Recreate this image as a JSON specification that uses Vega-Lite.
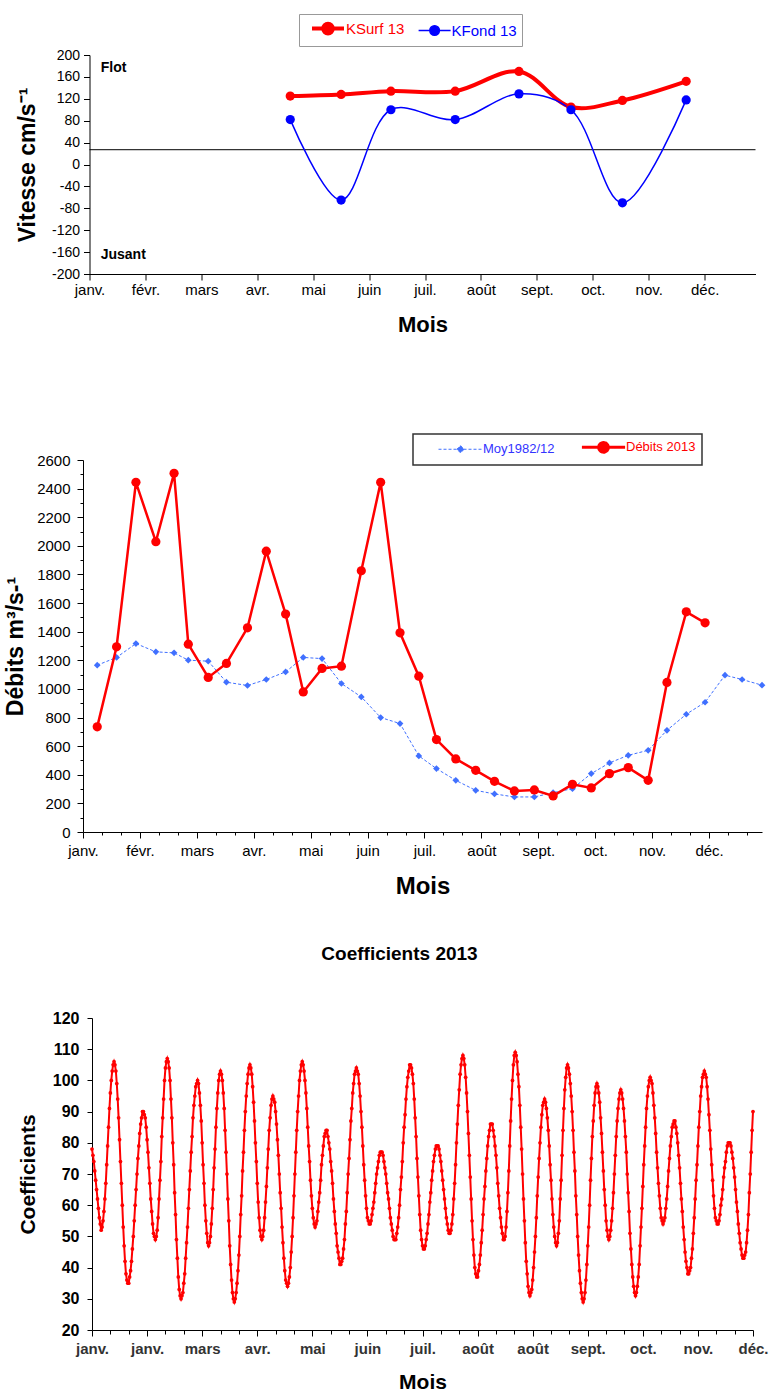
{
"$schema":"https://vega.github.io/schema/vega-lite/v6.json",
"padding":{"left":4,"top":13,"right":0,"bottom":0},
"background":"white",
"config":{"view":{"stroke":null},"font":"Liberation Sans",
"axis":{"grid":false,"labelFont":"Liberation Sans","titleFont":"Liberation Sans","domainColor":"#000","tickColor":"#000","labelColor":"#000","titleColor":"#000","titleFontWeight":"bold","labelFlush":false,"labelOverlap":false,"domainWidth":1,"tickWidth":1},
"legend":{"labelFont":"Liberation Sans"},"title":{"font":"Liberation Sans","color":"#000"}},
"resolve":{"scale":{"color":"independent","strokeWidth":"independent","x":"independent","y":"independent"},"legend":{"color":"independent"}},
"datasets":{"coef":[
{"t":0,"c":78},{"t":1,"c":76},{"t":2,"c":74},{"t":3,"c":71},{"t":4,"c":68},{"t":5,"c":65},{"t":6,"c":62},{"t":7,"c":59},{"t":8,"c":56},{"t":9,"c":54},{"t":10,"c":52},
{"t":11,"c":53},{"t":12,"c":55},{"t":13,"c":58},{"t":14,"c":62},{"t":15,"c":67},{"t":16,"c":73},{"t":17,"c":79},{"t":18,"c":85},{"t":19,"c":91},{"t":20,"c":96},{"t":21,"c":100},{"t":22,"c":103},{"t":23,"c":105},{"t":24,"c":106},
{"t":25,"c":105},{"t":26,"c":103},{"t":27,"c":99},{"t":28,"c":94},{"t":29,"c":88},{"t":30,"c":81},{"t":31,"c":74},{"t":32,"c":67},{"t":33,"c":60},{"t":34,"c":53},{"t":35,"c":47},{"t":36,"c":42},{"t":37,"c":38},{"t":38,"c":36},{"t":39,"c":35},
{"t":40,"c":35},{"t":41,"c":37},{"t":42,"c":39},{"t":43,"c":42},{"t":44,"c":46},{"t":45,"c":50},{"t":46,"c":55},{"t":47,"c":60},{"t":48,"c":65},{"t":49,"c":70},{"t":50,"c":75},{"t":51,"c":79},{"t":52,"c":83},{"t":53,"c":86},{"t":54,"c":88},{"t":55,"c":90},{"t":56,"c":90},
{"t":57,"c":89},{"t":58,"c":88},{"t":59,"c":85},{"t":60,"c":81},{"t":61,"c":77},{"t":62,"c":72},{"t":63,"c":67},{"t":64,"c":62},{"t":65,"c":58},{"t":66,"c":54},{"t":67,"c":51},{"t":68,"c":50},{"t":69,"c":49},
{"t":70,"c":50},{"t":71,"c":52},{"t":72,"c":56},{"t":73,"c":62},{"t":74,"c":68},{"t":75,"c":74},{"t":76,"c":82},{"t":77,"c":88},{"t":78,"c":94},{"t":79,"c":100},{"t":80,"c":104},{"t":81,"c":106},{"t":82,"c":107},
{"t":83,"c":106},{"t":84,"c":104},{"t":85,"c":100},{"t":86,"c":94},{"t":87,"c":88},{"t":88,"c":80},{"t":89,"c":73},{"t":90,"c":64},{"t":91,"c":57},{"t":92,"c":49},{"t":93,"c":43},{"t":94,"c":37},{"t":95,"c":33},{"t":96,"c":31},{"t":97,"c":30},
{"t":98,"c":31},{"t":99,"c":32},{"t":100,"c":35},{"t":101,"c":38},{"t":102,"c":43},{"t":103,"c":48},{"t":104,"c":53},{"t":105,"c":59},{"t":106,"c":65},{"t":107,"c":71},{"t":108,"c":77},{"t":109,"c":82},{"t":110,"c":88},{"t":111,"c":92},{"t":112,"c":95},{"t":113,"c":98},{"t":114,"c":99},{"t":115,"c":100},
{"t":116,"c":99},{"t":117,"c":96},{"t":118,"c":92},{"t":119,"c":87},{"t":120,"c":80},{"t":121,"c":73},{"t":122,"c":67},{"t":123,"c":60},{"t":124,"c":55},{"t":125,"c":51},{"t":126,"c":48},{"t":127,"c":47},
{"t":128,"c":48},{"t":129,"c":50},{"t":130,"c":54},{"t":131,"c":59},{"t":132,"c":65},{"t":133,"c":72},{"t":134,"c":78},{"t":135,"c":85},{"t":136,"c":91},{"t":137,"c":96},{"t":138,"c":100},{"t":139,"c":102},{"t":140,"c":103},
{"t":141,"c":102},{"t":142,"c":100},{"t":143,"c":96},{"t":144,"c":91},{"t":145,"c":84},{"t":146,"c":77},{"t":147,"c":70},{"t":148,"c":62},{"t":149,"c":55},{"t":150,"c":47},{"t":151,"c":41},{"t":152,"c":36},{"t":153,"c":32},{"t":154,"c":30},{"t":155,"c":29},
{"t":156,"c":30},{"t":157,"c":32},{"t":158,"c":35},{"t":159,"c":39},{"t":160,"c":44},{"t":161,"c":50},{"t":162,"c":57},{"t":163,"c":63},{"t":164,"c":71},{"t":165,"c":77},{"t":166,"c":84},{"t":167,"c":90},{"t":168,"c":95},{"t":169,"c":99},{"t":170,"c":102},{"t":171,"c":104},{"t":172,"c":105},
{"t":173,"c":104},{"t":174,"c":102},{"t":175,"c":98},{"t":176,"c":93},{"t":177,"c":87},{"t":178,"c":80},{"t":179,"c":74},{"t":180,"c":67},{"t":181,"c":61},{"t":182,"c":56},{"t":183,"c":52},{"t":184,"c":50},{"t":185,"c":49},
{"t":186,"c":50},{"t":187,"c":52},{"t":188,"c":56},{"t":189,"c":61},{"t":190,"c":66},{"t":191,"c":72},{"t":192,"c":78},{"t":193,"c":84},{"t":194,"c":88},{"t":195,"c":92},{"t":196,"c":94},{"t":197,"c":95},
{"t":198,"c":94},{"t":199,"c":93},{"t":200,"c":90},{"t":201,"c":86},{"t":202,"c":81},{"t":203,"c":76},{"t":204,"c":70},{"t":205,"c":64},{"t":206,"c":59},{"t":207,"c":53},{"t":208,"c":48},{"t":209,"c":43},{"t":210,"c":39},{"t":211,"c":36},{"t":212,"c":35},{"t":213,"c":34},
{"t":214,"c":35},{"t":215,"c":37},{"t":216,"c":40},{"t":217,"c":45},{"t":218,"c":50},{"t":219,"c":56},{"t":220,"c":63},{"t":221,"c":70},{"t":222,"c":77},{"t":223,"c":84},{"t":224,"c":90},{"t":225,"c":95},{"t":226,"c":100},{"t":227,"c":103},{"t":228,"c":105},{"t":229,"c":106},
{"t":230,"c":105},{"t":231,"c":103},{"t":232,"c":100},{"t":233,"c":96},{"t":234,"c":91},{"t":235,"c":85},{"t":236,"c":79},{"t":237,"c":74},{"t":238,"c":68},{"t":239,"c":63},{"t":240,"c":59},{"t":241,"c":56},{"t":242,"c":54},{"t":243,"c":53},
{"t":244,"c":54},{"t":245,"c":55},{"t":246,"c":58},{"t":247,"c":61},{"t":248,"c":64},{"t":249,"c":68},{"t":250,"c":73},{"t":251,"c":76},{"t":252,"c":79},{"t":253,"c":82},{"t":254,"c":83},{"t":255,"c":84},
{"t":256,"c":84},{"t":257,"c":82},{"t":258,"c":80},{"t":259,"c":78},{"t":260,"c":74},{"t":261,"c":71},{"t":262,"c":67},{"t":263,"c":62},{"t":264,"c":58},{"t":265,"c":54},{"t":266,"c":51},{"t":267,"c":47},{"t":268,"c":45},{"t":269,"c":43},{"t":270,"c":41},{"t":271,"c":41},
{"t":272,"c":42},{"t":273,"c":43},{"t":274,"c":46},{"t":275,"c":49},{"t":276,"c":54},{"t":277,"c":58},{"t":278,"c":64},{"t":279,"c":70},{"t":280,"c":75},{"t":281,"c":81},{"t":282,"c":87},{"t":283,"c":91},{"t":284,"c":96},{"t":285,"c":99},{"t":286,"c":102},{"t":287,"c":103},{"t":288,"c":104},
{"t":289,"c":103},{"t":290,"c":102},{"t":291,"c":99},{"t":292,"c":95},{"t":293,"c":90},{"t":294,"c":85},{"t":295,"c":79},{"t":296,"c":73},{"t":297,"c":68},{"t":298,"c":63},{"t":299,"c":59},{"t":300,"c":56},{"t":301,"c":55},{"t":302,"c":54},
{"t":303,"c":54},{"t":304,"c":55},{"t":305,"c":57},{"t":306,"c":59},{"t":307,"c":61},{"t":308,"c":64},{"t":309,"c":67},{"t":310,"c":70},{"t":311,"c":72},{"t":312,"c":74},{"t":313,"c":76},{"t":314,"c":77},{"t":315,"c":77},
{"t":316,"c":77},{"t":317,"c":76},{"t":318,"c":74},{"t":319,"c":72},{"t":320,"c":70},{"t":321,"c":67},{"t":322,"c":64},{"t":323,"c":62},{"t":324,"c":59},{"t":325,"c":56},{"t":326,"c":54},{"t":327,"c":52},{"t":328,"c":50},{"t":329,"c":49},{"t":330,"c":49},
{"t":331,"c":49},{"t":332,"c":51},{"t":333,"c":53},{"t":334,"c":56},{"t":335,"c":60},{"t":336,"c":65},{"t":337,"c":69},{"t":338,"c":74},{"t":339,"c":80},{"t":340,"c":85},{"t":341,"c":89},{"t":342,"c":94},{"t":343,"c":98},{"t":344,"c":101},{"t":345,"c":103},{"t":346,"c":105},{"t":347,"c":105},
{"t":348,"c":104},{"t":349,"c":102},{"t":350,"c":99},{"t":351,"c":94},{"t":352,"c":88},{"t":353,"c":82},{"t":354,"c":75},{"t":355,"c":69},{"t":356,"c":63},{"t":357,"c":57},{"t":358,"c":52},{"t":359,"c":49},{"t":360,"c":47},{"t":361,"c":46},
{"t":362,"c":46},{"t":363,"c":47},{"t":364,"c":49},{"t":365,"c":51},{"t":366,"c":54},{"t":367,"c":57},{"t":368,"c":61},{"t":369,"c":64},{"t":370,"c":68},{"t":371,"c":71},{"t":372,"c":74},{"t":373,"c":76},{"t":374,"c":78},{"t":375,"c":79},{"t":376,"c":79},
{"t":377,"c":79},{"t":378,"c":78},{"t":379,"c":76},{"t":380,"c":74},{"t":381,"c":71},{"t":382,"c":68},{"t":383,"c":65},{"t":384,"c":62},{"t":385,"c":59},{"t":386,"c":56},{"t":387,"c":54},{"t":388,"c":52},{"t":389,"c":51},{"t":390,"c":51},
{"t":391,"c":52},{"t":392,"c":54},{"t":393,"c":57},{"t":394,"c":62},{"t":395,"c":67},{"t":396,"c":73},{"t":397,"c":80},{"t":398,"c":86},{"t":399,"c":92},{"t":400,"c":97},{"t":401,"c":102},{"t":402,"c":105},{"t":403,"c":107},{"t":404,"c":108},
{"t":405,"c":107},{"t":406,"c":105},{"t":407,"c":101},{"t":408,"c":96},{"t":409,"c":90},{"t":410,"c":83},{"t":411,"c":76},{"t":412,"c":69},{"t":413,"c":62},{"t":414,"c":55},{"t":415,"c":49},{"t":416,"c":44},{"t":417,"c":40},{"t":418,"c":38},{"t":419,"c":37},
{"t":420,"c":37},{"t":421,"c":39},{"t":422,"c":41},{"t":423,"c":44},{"t":424,"c":48},{"t":425,"c":52},{"t":426,"c":57},{"t":427,"c":62},{"t":428,"c":66},{"t":429,"c":71},{"t":430,"c":75},{"t":431,"c":79},{"t":432,"c":82},{"t":433,"c":84},{"t":434,"c":86},{"t":435,"c":86},
{"t":436,"c":86},{"t":437,"c":84},{"t":438,"c":82},{"t":439,"c":79},{"t":440,"c":76},{"t":441,"c":72},{"t":442,"c":67},{"t":443,"c":63},{"t":444,"c":59},{"t":445,"c":56},{"t":446,"c":53},{"t":447,"c":51},{"t":448,"c":49},{"t":449,"c":49},
{"t":450,"c":50},{"t":451,"c":53},{"t":452,"c":58},{"t":453,"c":64},{"t":454,"c":71},{"t":455,"c":79},{"t":456,"c":87},{"t":457,"c":94},{"t":458,"c":100},{"t":459,"c":105},{"t":460,"c":108},{"t":461,"c":109},
{"t":462,"c":108},{"t":463,"c":106},{"t":464,"c":102},{"t":465,"c":98},{"t":466,"c":92},{"t":467,"c":85},{"t":468,"c":78},{"t":469,"c":70},{"t":470,"c":62},{"t":471,"c":55},{"t":472,"c":48},{"t":473,"c":42},{"t":474,"c":38},{"t":475,"c":34},{"t":476,"c":32},{"t":477,"c":31},
{"t":478,"c":32},{"t":479,"c":33},{"t":480,"c":36},{"t":481,"c":40},{"t":482,"c":45},{"t":483,"c":50},{"t":484,"c":56},{"t":485,"c":63},{"t":486,"c":69},{"t":487,"c":75},{"t":488,"c":80},{"t":489,"c":85},{"t":490,"c":89},{"t":491,"c":92},{"t":492,"c":93},{"t":493,"c":94},
{"t":494,"c":93},{"t":495,"c":91},{"t":496,"c":88},{"t":497,"c":84},{"t":498,"c":79},{"t":499,"c":73},{"t":500,"c":68},{"t":501,"c":62},{"t":502,"c":57},{"t":503,"c":53},{"t":504,"c":50},{"t":505,"c":48},{"t":506,"c":47},
{"t":507,"c":48},{"t":508,"c":51},{"t":509,"c":55},{"t":510,"c":62},{"t":511,"c":68},{"t":512,"c":76},{"t":513,"c":84},{"t":514,"c":91},{"t":515,"c":97},{"t":516,"c":101},{"t":517,"c":104},{"t":518,"c":105},
{"t":519,"c":104},{"t":520,"c":102},{"t":521,"c":99},{"t":522,"c":95},{"t":523,"c":90},{"t":524,"c":84},{"t":525,"c":77},{"t":526,"c":71},{"t":527,"c":63},{"t":528,"c":57},{"t":529,"c":50},{"t":530,"c":44},{"t":531,"c":39},{"t":532,"c":35},{"t":533,"c":32},{"t":534,"c":30},{"t":535,"c":29},
{"t":536,"c":30},{"t":537,"c":32},{"t":538,"c":36},{"t":539,"c":41},{"t":540,"c":47},{"t":541,"c":53},{"t":542,"c":60},{"t":543,"c":68},{"t":544,"c":75},{"t":545,"c":82},{"t":546,"c":87},{"t":547,"c":92},{"t":548,"c":96},{"t":549,"c":98},{"t":550,"c":99},
{"t":551,"c":98},{"t":552,"c":96},{"t":553,"c":93},{"t":554,"c":88},{"t":555,"c":83},{"t":556,"c":77},{"t":557,"c":71},{"t":558,"c":65},{"t":559,"c":60},{"t":560,"c":55},{"t":561,"c":52},{"t":562,"c":50},{"t":563,"c":49},
{"t":564,"c":50},{"t":565,"c":52},{"t":566,"c":55},{"t":567,"c":59},{"t":568,"c":64},{"t":569,"c":70},{"t":570,"c":76},{"t":571,"c":82},{"t":572,"c":87},{"t":573,"c":91},{"t":574,"c":94},{"t":575,"c":96},{"t":576,"c":97},
{"t":577,"c":96},{"t":578,"c":94},{"t":579,"c":91},{"t":580,"c":87},{"t":581,"c":82},{"t":582,"c":77},{"t":583,"c":70},{"t":584,"c":64},{"t":585,"c":58},{"t":586,"c":51},{"t":587,"c":46},{"t":588,"c":41},{"t":589,"c":37},{"t":590,"c":34},{"t":591,"c":32},{"t":592,"c":31},
{"t":593,"c":32},{"t":594,"c":34},{"t":595,"c":37},{"t":596,"c":41},{"t":597,"c":47},{"t":598,"c":53},{"t":599,"c":59},{"t":600,"c":66},{"t":601,"c":73},{"t":602,"c":79},{"t":603,"c":85},{"t":604,"c":91},{"t":605,"c":95},{"t":606,"c":98},{"t":607,"c":100},{"t":608,"c":101},
{"t":609,"c":100},{"t":610,"c":99},{"t":611,"c":96},{"t":612,"c":92},{"t":613,"c":88},{"t":614,"c":83},{"t":615,"c":77},{"t":616,"c":72},{"t":617,"c":67},{"t":618,"c":63},{"t":619,"c":59},{"t":620,"c":56},{"t":621,"c":55},{"t":622,"c":54},
{"t":623,"c":55},{"t":624,"c":56},{"t":625,"c":59},{"t":626,"c":62},{"t":627,"c":66},{"t":628,"c":71},{"t":629,"c":75},{"t":630,"c":79},{"t":631,"c":82},{"t":632,"c":85},{"t":633,"c":86},{"t":634,"c":87},
{"t":635,"c":87},{"t":636,"c":85},{"t":637,"c":83},{"t":638,"c":80},{"t":639,"c":76},{"t":640,"c":72},{"t":641,"c":67},{"t":642,"c":62},{"t":643,"c":58},{"t":644,"c":53},{"t":645,"c":49},{"t":646,"c":45},{"t":647,"c":42},{"t":648,"c":40},{"t":649,"c":38},{"t":650,"c":38},
{"t":651,"c":39},{"t":652,"c":40},{"t":653,"c":43},{"t":654,"c":46},{"t":655,"c":51},{"t":656,"c":56},{"t":657,"c":62},{"t":658,"c":68},{"t":659,"c":73},{"t":660,"c":79},{"t":661,"c":85},{"t":662,"c":90},{"t":663,"c":95},{"t":664,"c":98},{"t":665,"c":101},{"t":666,"c":102},{"t":667,"c":103},
{"t":668,"c":102},{"t":669,"c":101},{"t":670,"c":98},{"t":671,"c":94},{"t":672,"c":89},{"t":673,"c":84},{"t":674,"c":78},{"t":675,"c":73},{"t":676,"c":68},{"t":677,"c":63},{"t":678,"c":59},{"t":679,"c":56},{"t":680,"c":55},{"t":681,"c":54},
{"t":682,"c":54},{"t":683,"c":55},{"t":684,"c":57},{"t":685,"c":60},{"t":686,"c":62},{"t":687,"c":65},{"t":688,"c":69},{"t":689,"c":72},{"t":690,"c":74},{"t":691,"c":77},{"t":692,"c":79},{"t":693,"c":80},{"t":694,"c":80},
{"t":695,"c":80},{"t":696,"c":79},{"t":697,"c":77},{"t":698,"c":75},{"t":699,"c":72},{"t":700,"c":69},{"t":701,"c":65},{"t":702,"c":61},{"t":703,"c":58},{"t":704,"c":54},{"t":705,"c":51},{"t":706,"c":48},{"t":707,"c":46},{"t":708,"c":44},{"t":709,"c":43},{"t":710,"c":43},
{"t":711,"c":44},{"t":712,"c":45},{"t":713,"c":48},{"t":714,"c":52},{"t":715,"c":57},{"t":716,"c":64},{"t":717,"c":70},{"t":718,"c":77},{"t":719,"c":84},{"t":720,"c":90}
]},
"spacing":186,"bounds":"flush","center":true,
"vconcat":[
{"width":666,"height":219,
"layer":[
{"data":{"values":[{"v":27}]},"mark":{"type":"rule","color":"#000","strokeWidth":1},"encoding":{"y":{"field":"v","type":"quantitative","scale":{"domain":[-200,200],"nice":false},
"axis":{"title":"Vitesse cm/s⁻¹","titleFontSize":23,"titlePadding":12,"labelFontSize":14,"tickSize":6,"labelPadding":4,"labelOverlap":false,"tickCount":11,"values":[-200,-160,-120,-80,-40,0,40,80,120,160,200],"labelExpr":"datum.value + ''"}}}},
{"data":{"values":[
{"m":3.59,"v":125,"serie":"KSurf 13"},{"m":4.5,"v":128,"serie":"KSurf 13"},{"m":5.39,"v":134,"serie":"KSurf 13"},{"m":6.54,"v":134,"serie":"KSurf 13"},{"m":7.68,"v":170,"serie":"KSurf 13"},{"m":8.61,"v":105,"serie":"KSurf 13"},{"m":9.53,"v":117,"serie":"KSurf 13"},{"m":10.67,"v":152,"serie":"KSurf 13"},
{"m":3.59,"v":82,"serie":"KFond 13"},{"m":4.5,"v":-65,"serie":"KFond 13"},{"m":5.39,"v":100,"serie":"KFond 13"},{"m":6.54,"v":82,"serie":"KFond 13"},{"m":7.68,"v":129,"serie":"KFond 13"},{"m":8.61,"v":100,"serie":"KFond 13"},{"m":9.53,"v":-70,"serie":"KFond 13"},{"m":10.67,"v":118,"serie":"KFond 13"}]},
"encoding":{
"x":{"field":"m","type":"quantitative","scale":{"domain":[0,11.91],"nice":false,"zero":false},
"axis":{"title":"Mois","titleFontSize":22,"titlePadding":17,"labelFontSize":15,"tickSize":6,"labelPadding":2,"labelOverlap":false,"tickCount":12,"values":[0,1,2,3,4,5,6,7,8,9,10,11],
"labelExpr":"['janv.','févr.','mars','avr.','mai','juin','juil.','août','sept.','oct.','nov.','déc.'][round(datum.value)]"}},
"y":{"field":"v","type":"quantitative","scale":{"domain":[-200,200],"nice":false},
"axis":{"title":"Vitesse cm/s⁻¹","titleFontSize":23,"titlePadding":12,"labelFontSize":14,"tickSize":6,"labelPadding":4,"labelOverlap":false,"tickCount":11,"values":[-200,-160,-120,-80,-40,0,40,80,120,160,200],"labelExpr":"datum.value + ''"}},
"color":{"field":"serie","type":"nominal","scale":{"domain":["KSurf 13","KFond 13"],"range":["#ff0000","#0000ff"]},
"legend":{"orient":"none","legendX":209.5,"legendY":-41,"direction":"horizontal","title":null,"strokeColor":"#999999","padding":4.5,"labelFontSize":15,"symbolSize":256,"symbolOffset":14.5,"labelOffset":8,"columnPadding":6.6,
"symbolType":"M-2,0H2M0.6,0A0.6,0.6,0,1,1,-0.6,0A0.6,0.6,0,1,1,0.6,0Z",
"encode":{"labels":{"update":{"fill":{"signal":"datum.value === 'KSurf 13' ? '#ff0000' : '#0000ff'"}}},
"symbols":{"update":{"fill":{"signal":"datum.value === 'KSurf 13' ? '#ff0000' : '#0000ff'"},"stroke":{"signal":"datum.value === 'KSurf 13' ? '#ff0000' : '#0000ff'"},"strokeWidth":{"signal":"datum.value === 'KSurf 13' ? 4 : 1.5"},"opacity":{"value":1}}}}}}},
"layer":[
{"mark":{"type":"line","interpolate":"catmull-rom"},"encoding":{"strokeWidth":{"field":"serie","type":"nominal","scale":{"domain":["KSurf 13","KFond 13"],"range":[4,1.5]},"legend":null}}},
{"mark":{"type":"point","filled":true,"size":85,"opacity":1}}]},
{"data":{"values":[{}]},"mark":{"type":"text","text":"Flot","align":"left","baseline":"middle","fontWeight":"bold","fontSize":14,"color":"#000"},"encoding":{"x":{"datum":0.2},"y":{"datum":176}}},
{"data":{"values":[{}]},"mark":{"type":"text","text":"Jusant","align":"left","baseline":"middle","fontWeight":"bold","fontSize":14,"color":"#000"},"encoding":{"x":{"datum":0.2},"y":{"datum":-165}}}
]},
{"width":679,"height":372,
"data":{"values":[
{"m":0.25,"q":1166,"serie":"Moy1982/12"},{"m":0.59,"q":1220,"serie":"Moy1982/12"},{"m":0.93,"q":1317,"serie":"Moy1982/12"},{"m":1.28,"q":1259,"serie":"Moy1982/12"},{"m":1.6,"q":1252,"serie":"Moy1982/12"},{"m":1.85,"q":1201,"serie":"Moy1982/12"},{"m":2.2,"q":1194,"serie":"Moy1982/12"},{"m":2.52,"q":1047,"serie":"Moy1982/12"},{"m":2.89,"q":1024,"serie":"Moy1982/12"},{"m":3.22,"q":1066,"serie":"Moy1982/12"},{"m":3.56,"q":1119,"serie":"Moy1982/12"},{"m":3.87,"q":1220,"serie":"Moy1982/12"},
{"m":4.2,"q":1212,"serie":"Moy1982/12"},{"m":4.54,"q":1038,"serie":"Moy1982/12"},{"m":4.89,"q":944,"serie":"Moy1982/12"},{"m":5.23,"q":800,"serie":"Moy1982/12"},{"m":5.57,"q":758,"serie":"Moy1982/12"},{"m":5.9,"q":532,"serie":"Moy1982/12"},{"m":6.21,"q":443,"serie":"Moy1982/12"},{"m":6.55,"q":361,"serie":"Moy1982/12"},{"m":6.9,"q":291,"serie":"Moy1982/12"},{"m":7.23,"q":266,"serie":"Moy1982/12"},{"m":7.58,"q":245,"serie":"Moy1982/12"},{"m":7.93,"q":245,"serie":"Moy1982/12"},
{"m":8.26,"q":275,"serie":"Moy1982/12"},{"m":8.6,"q":303,"serie":"Moy1982/12"},{"m":8.93,"q":408,"serie":"Moy1982/12"},{"m":9.25,"q":483,"serie":"Moy1982/12"},{"m":9.58,"q":536,"serie":"Moy1982/12"},{"m":9.93,"q":571,"serie":"Moy1982/12"},{"m":10.26,"q":711,"serie":"Moy1982/12"},{"m":10.6,"q":823,"serie":"Moy1982/12"},{"m":10.93,"q":907,"serie":"Moy1982/12"},{"m":11.28,"q":1096,"serie":"Moy1982/12"},{"m":11.58,"q":1066,"serie":"Moy1982/12"},{"m":11.93,"q":1026,"serie":"Moy1982/12"},
{"m":0.25,"q":735,"serie":"Débits 2013"},{"m":0.59,"q":1294,"serie":"Débits 2013"},{"m":0.93,"q":2444,"serie":"Débits 2013"},{"m":1.28,"q":2029,"serie":"Débits 2013"},{"m":1.6,"q":2507,"serie":"Débits 2013"},{"m":1.85,"q":1313,"serie":"Débits 2013"},{"m":2.2,"q":1080,"serie":"Débits 2013"},{"m":2.52,"q":1178,"serie":"Débits 2013"},{"m":2.89,"q":1427,"serie":"Débits 2013"},{"m":3.22,"q":1963,"serie":"Débits 2013"},{"m":3.56,"q":1523,"serie":"Débits 2013"},
{"m":3.87,"q":979,"serie":"Débits 2013"},{"m":4.2,"q":1143,"serie":"Débits 2013"},{"m":4.54,"q":1159,"serie":"Débits 2013"},{"m":4.89,"q":1826,"serie":"Débits 2013"},{"m":5.23,"q":2444,"serie":"Débits 2013"},{"m":5.57,"q":1392,"serie":"Débits 2013"},{"m":5.9,"q":1089,"serie":"Débits 2013"},{"m":6.21,"q":646,"serie":"Débits 2013"},{"m":6.55,"q":511,"serie":"Débits 2013"},{"m":6.9,"q":431,"serie":"Débits 2013"},{"m":7.23,"q":354,"serie":"Débits 2013"},
{"m":7.58,"q":287,"serie":"Débits 2013"},{"m":7.93,"q":294,"serie":"Débits 2013"},{"m":8.26,"q":252,"serie":"Débits 2013"},{"m":8.6,"q":333,"serie":"Débits 2013"},{"m":8.93,"q":308,"serie":"Débits 2013"},{"m":9.25,"q":408,"serie":"Débits 2013"},{"m":9.58,"q":450,"serie":"Débits 2013"},{"m":9.93,"q":361,"serie":"Débits 2013"},{"m":10.26,"q":1045,"serie":"Débits 2013"},{"m":10.6,"q":1539,"serie":"Débits 2013"},{"m":10.93,"q":1462,"serie":"Débits 2013"}]},
"encoding":{
"x":{"field":"m","type":"quantitative","scale":{"domain":[0,11.93],"nice":false,"zero":false},
"axis":{"title":"Mois","titleFontSize":24,"titlePadding":16,"labelFontSize":15,"labelPadding":5,"labelOverlap":false,"tickCount":40,
"values":[0,0.3333,0.6667,1,1.3333,1.6667,2,2.3333,2.6667,3,3.3333,3.6667,4,4.3333,4.6667,5,5.3333,5.6667,6,6.3333,6.6667,7,7.3333,7.6667,8,8.3333,8.6667,9,9.3333,9.6667,10,10.3333,10.6667,11,11.3333,11.6667],
"tickSize":{"condition":{"test":"abs(datum.value-round(datum.value))<0.01","value":6},"value":3},
"labelExpr":"abs(datum.value-round(datum.value))<0.01 ? ['janv.','févr.','mars','avr.','mai','juin','juil.','août','sept.','oct.','nov.','déc.'][round(datum.value)] : ''"}},
"y":{"field":"q","type":"quantitative","scale":{"domain":[0,2600],"nice":false},
"axis":{"title":"Débits m³/s-¹","titleFontSize":23,"titlePadding":9,"labelFontSize":15,"labelPadding":7,"format":"d","labelOverlap":false,"tickCount":30,
"values":[0,100,200,300,400,500,600,700,800,900,1000,1100,1200,1300,1400,1500,1600,1700,1800,1900,2000,2100,2200,2300,2400,2500,2600],
"tickSize":{"condition":{"test":"datum.value % 200 == 0","value":6},"value":3},
"labelExpr":"datum.value % 200 == 0 ? datum.label : ''"}},
"color":{"field":"serie","type":"nominal","scale":{"domain":["Moy1982/12","Débits 2013"],"range":["#4070ff","#ff0000"]},
"legend":{"orient":"none","legendX":330,"legendY":-26,"direction":"horizontal","title":null,"strokeColor":"#333333","padding":6.5,"labelFontSize":13,"symbolSize":256,"symbolOffset":34.5,"labelOffset":16,"columnPadding":7,
"symbolType":"M-2.75,0H2.75M0.6,0A0.6,0.6,0,1,1,-0.6,0A0.6,0.6,0,1,1,0.6,0Z",
"encode":{"legend":{"update":{"strokeWidth":{"value":1.5}}},
"labels":{"update":{"fill":{"signal":"datum.value === 'Moy1982/12' ? '#3333ff' : '#ff0000'"}}},
"symbols":{"update":{"shape":{"signal":"datum.value === 'Moy1982/12' ? 'M-2.75,0H2.75M0,-0.45L0.45,0L0,0.45L-0.45,0Z' : 'M-2.7,0H2.7M0.6,0A0.6,0.6,0,1,1,-0.6,0A0.6,0.6,0,1,1,0.6,0Z'"},
"fill":{"signal":"datum.value === 'Moy1982/12' ? '#4070ff' : '#ff0000'"},"stroke":{"signal":"datum.value === 'Moy1982/12' ? '#4070ff' : '#ff0000'"},
"strokeWidth":{"signal":"datum.value === 'Moy1982/12' ? 1 : 3"},"strokeDash":{"signal":"datum.value === 'Moy1982/12' ? [3,2] : [1,0]"},"opacity":{"value":1}}}}}}},
"layer":[
{"transform":[{"filter":"datum.serie === 'Moy1982/12'"}],"mark":{"type":"line","strokeWidth":1,"strokeDash":[3,2]}},
{"transform":[{"filter":"datum.serie === 'Moy1982/12'"}],"mark":{"type":"point","shape":"diamond","size":45,"filled":true,"opacity":1}},
{"transform":[{"filter":"datum.serie === 'Débits 2013'"}],"mark":{"type":"line","strokeWidth":2.5}},
{"transform":[{"filter":"datum.serie === 'Débits 2013'"}],"mark":{"type":"point","shape":"circle","size":85,"filled":true,"opacity":1}}]},
{"width":661,"height":312,
"title":{"text":"Coefficients 2013","fontSize":19,"fontWeight":"bold","offset":46,"dx":-23,"anchor":"middle"},
"data":{"name":"coef"},
"encoding":{
"x":{"field":"t","type":"quantitative","scale":{"domain":[0,720],"nice":false,"zero":false},
"axis":{"title":"Mois","titleFontSize":21,"titlePadding":15,"labelFontSize":15,"labelFontWeight":"bold","labelColor":"#333333","labelPadding":5,"labelOverlap":false,"tickCount":40,
"values":[0,20,40,60,80,100,120,140,160,180,200,220,240,260,280,300,320,340,360,380,400,420,440,460,480,500,520,540,560,580,600,620,640,660,680,700,720],
"tickSize":{"condition":{"test":"datum.value % 60 == 0","value":6},"value":4},
"labelExpr":"datum.value % 60 == 0 ? ['janv.','janv.','mars','avr.','mai','juin','juil.','août','août','sept.','oct.','nov.','déc.'][datum.value/60] : ''"}},
"y":{"field":"c","type":"quantitative","scale":{"domain":[20,120],"nice":false,"zero":false},
"axis":{"title":"Coefficients","titleFontSize":21,"titlePadding":14,"labelFontSize":16,"labelFontWeight":"bold","labelPadding":8,"tickSize":5,"labelOverlap":false,"tickCount":11,"values":[20,30,40,50,60,70,80,90,100,110,120]}}},
"layer":[
{"mark":{"type":"line","color":"#ff0000","strokeWidth":2}},
{"mark":{"type":"point","filled":true,"color":"#ff0000","size":14,"opacity":1}}]}
]
}
